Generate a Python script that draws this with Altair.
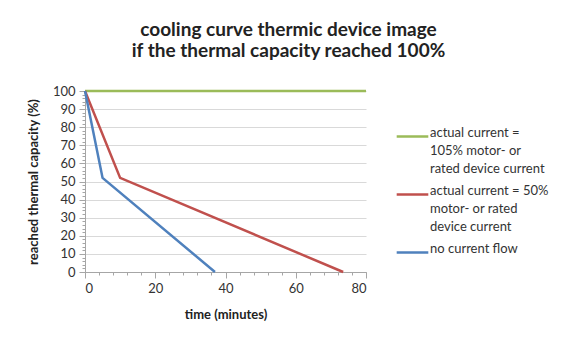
import altair as alt
import pandas as pd

series_names = [
    "actual current =|105% motor- or|rated device current",
    "actual current = 50%|motor- or rated|device current",
    "no current flow",
]
colors = ["#9BBB59", "#C0504D", "#4F81BD"]

green_t = [0, 80]
green_v = [100, 100]
red_t = [0, 10, 73.5]
red_v = [100, 52, 0]
blue_t = [0, 5, 37]
blue_v = [100, 52, 0]

rows = []
for name, ts, vs in zip(series_names, [green_t, red_t, blue_t], [green_v, red_v, blue_v]):
    for i, (t, v) in enumerate(zip(ts, vs)):
        rows.append({"series": name, "time": t, "cap": v, "order": i})
df = pd.DataFrame(rows)

FONT = "Lato"

x_major = [0, 20, 40, 60, 80]
x_minor = list(range(0, 81, 4))
y_major = list(range(0, 101, 10))
y_minor = list(range(0, 101, 2))

base = alt.Chart(df)

minor = base.mark_line(opacity=0).encode(
    x=alt.X("time:Q", scale=alt.Scale(domain=[0, 80], nice=False),
            axis=alt.Axis(values=x_minor, labels=False, title=None, grid=False, orient="bottom",
                          domain=False, tickSize=3, tickColor="#a6a6a6")),
    y=alt.Y("cap:Q", scale=alt.Scale(domain=[0, 100], nice=False),
            axis=alt.Axis(values=y_minor, labels=False, title=None, grid=False, orient="left",
                          domain=False, tickSize=3, tickColor="#a6a6a6")),
)

lines = base.mark_line(strokeWidth=2.5).encode(
    x=alt.X("time:Q", scale=alt.Scale(domain=[0, 80], nice=False),
            axis=alt.Axis(values=x_major, title="time (minutes)", grid=False, orient="bottom",
                          tickSize=6)),
    y=alt.Y("cap:Q", scale=alt.Scale(domain=[0, 100], nice=False),
            axis=alt.Axis(values=y_major, title="reached thermal capacity (%)", orient="left",
                          grid=True, tickSize=6)),
    color=alt.Color("series:N",
                    scale=alt.Scale(domain=series_names, range=colors),
                    sort=series_names,
                    legend=alt.Legend(title=None, orient="none", legendX=310, legendY=28,
                                      symbolType="stroke", symbolSize=1000,
                                      symbolStrokeWidth=2.5,
                                      labelExpr="split(datum.label, '|')",
                                      labelBaseline="alphabetic",
                                      labelFont=FONT, labelFontSize=13,
                                      labelColor="#333333", labelLimit=300,
                                      rowPadding=1, labelOffset=0)),
    order="order:Q",
)

chart = alt.layer(lines, minor).resolve_axis(x="independent", y="independent").properties(
    width=281, height=181,
    title=alt.TitleParams(["cooling curve thermic device image",
                           "if the thermal capacity reached 100%"],
                          font=FONT, fontSize=19, fontWeight="bold", color="#222222",
                          anchor="middle", dx=63, offset=24, lineHeight=21),
    padding={"left": 77, "top": 83, "right": 202, "bottom": 70},
    autosize=alt.AutoSizeParams(type="none"),
).configure(
    style={"guide-label": {"lineHeight": 18}}
).configure_view(stroke=None).configure_axis(
    labelFont=FONT, labelFontSize=13, labelColor="#333333",
    titleFont=FONT, titleFontSize=13, titleFontWeight="bold", titleColor="#222222",
    domainColor="#a6a6a6", tickColor="#a6a6a6", gridColor="#d9d9d9",
    labelPadding=4,
).configure_axisX(titlePadding=13).configure_axisY(titlePadding=12)

chart.save("out.html", embed_options={"renderer": "svg", "actions": False})
